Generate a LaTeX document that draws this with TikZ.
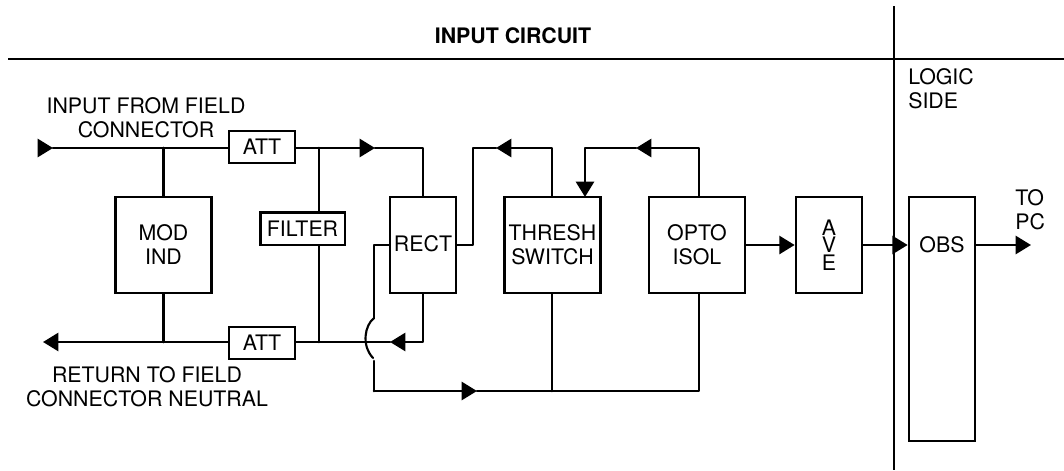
\documentclass[tikz,border=0pt]{standalone}
\usepackage{fontspec}
\setmainfont{TeX Gyre Heros}
\usetikzlibrary{arrows.meta}

\tikzset{
  block/.style={draw,line width=2pt,inner sep=0pt,align=center,font=\fontsize{16}{18}\selectfont},
  lbl/.style={inner sep=0pt,align=center,font=\fontsize{16}{18}\selectfont},
  conn/.style={line width=2pt,line join=round,line cap=round},
  flow/.style={conn,-{Triangle[length=11.5pt,width=13.5pt]}}
}

\begin{document}
\begin{tikzpicture}[x=0.75pt,y=-0.75pt]
  \useasboundingbox (0,0) rectangle (1064,471);

  % Lineas de separacion
  \coordinate (topL) at (8,59);
  \coordinate (topR) at (1064,59);
  \coordinate (sepT) at (894,6);
  \coordinate (sepB) at (894,470);
  \draw[conn,line cap=butt] (topL) -- (topR);
  \draw[conn,line cap=butt] (sepT) -- (sepB);

  % Bloques
  \node[block,minimum width=72pt,minimum height=72pt] (mod) at (163.5,245) {MOD\\IND};
  \node[block,minimum width=49.5pt,minimum height=24pt] (attT) at (262,147) {ATT};
  \node[block,minimum width=49.5pt,minimum height=24pt] (attB) at (262,343) {ATT};
  \node[block,minimum width=63.5pt,minimum height=24.5pt] (filter) at (302.5,228.5) {FILTER};
  \node[block,minimum width=49.5pt,minimum height=72pt] (rect) at (423,245) {\raisebox{1.5pt}{RECT}};
  \node[block,minimum width=72pt,minimum height=72pt] (thresh) at (552.5,245) {THRESH\\SWITCH};
  \node[block,minimum width=72pt,minimum height=72pt] (opto) at (697,245) {OPTO\\ISOL};
  \node[block,minimum width=49.5pt,minimum height=72pt,font=\fontsize{16}{13}\selectfont] (ave) at (829,245) {A\\V\\E};
  \node[block,minimum width=49.5pt,minimum height=183pt] (obs) at (942,319) {};

  % Textos
  \node[lbl,font=\bfseries\fontsize{16}{18}\selectfont] (title) at (513,36) {INPUT CIRCUIT};
  \node[lbl,align=left,anchor=north west] (logic) at (908,68) {LOGIC\\SIDE};
  \node[lbl] (obsT) at (942,245) {OBS};
  \node[lbl] (inT) at (146,118) {INPUT FROM FIELD\\CONNECTOR};
  \node[lbl] (retT) at (147,387) {RETURN TO FIELD\\CONNECTOR NEUTRAL};
  \node[lbl,align=left,anchor=west] (pcT) at (1015,210) {TO\\PC};

  % Puntos libres de las conexiones
  \coordinate (inS) at (38,148);
  \coordinate (inA) at (53,148);
  \coordinate (retA) at (43,342);
  \coordinate (splitT) at (319,148);
  \coordinate (splitB) at (319,342);
  \coordinate (topA) at (375,148);
  \coordinate (topC) at (423,148);
  \coordinate (botC) at (423,342);
  \coordinate (botA) at (390,342);
  \coordinate (jogT) at (473,148);
  \coordinate (thrT) at (552,148);
  \coordinate (thrA) at (496,148);
  \coordinate (optT) at (699,148);
  \coordinate (optA) at (636,148);
  \coordinate (fbT) at (585,148);
  \coordinate (fbB) at (585,197);
  \coordinate (rectL) at (374,245);
  \coordinate (brT) at (374,318);
  \coordinate (brB) at (373,358);
  \coordinate (lowT) at (374,361);
  \coordinate (lowL) at (374,391);
  \coordinate (lowA) at (477,391);
  \coordinate (lowM) at (552,391);
  \coordinate (lowR) at (699,391);
  \coordinate (pcA) at (1031,245);

  % Linea de entrada
  \draw[flow,line cap=butt] (inS) -- (inA);
  \draw[conn] (inA) -- (attT.west |- inA);
  \draw[flow] (attT.east |- topC) -- (topA);
  \draw[conn] (topA) -- (topC) -- (rect.north);
  \draw[conn] (mod.north) -- (mod.north |- inA);
  \draw[conn] (mod.south) -- (mod.south |- retA);
  \draw[conn] (splitT) -- (splitT |- filter.north);
  \draw[conn] (splitB) -- (splitB |- filter.south);

  % Linea de retorno
  \draw[flow] (attB.west |- retA) -- (retA);
  \draw[flow] (rect.south) -- (botC) -- (botA);
  \draw[conn] (botA) -- (attB.east |- botA);

  % Salida de RECT con el puente
  \draw[conn] (rect.west) -- (rectL) -- (brT);
  \draw[conn,line width=1.6pt] (brT) .. controls (365,325) and (361,345) .. (brB);
  \draw[conn] (lowT) -- (lowL);
  \draw[flow] (lowL) -- (lowA);
  \draw[conn] (lowA) -- (lowR) -- (opto.south -| lowR);
  \draw[conn] (lowM) -- (lowM |- thresh.south);

  % Lineas superiores
  \draw[conn] (rect.east) -- (jogT |- rect.east) -- (jogT) -- (thrA);
  \draw[flow] (thrT |- thresh.north) -- (thrT) -- (thrA);
  \draw[flow] (optT |- opto.north) -- (optT) -- (optA);
  \draw[flow] (optA) -- (fbT) -- (fbB);

  % Salidas
  \draw[flow] (opto.east) -- (ave.west);
  \draw[flow] (ave.east) -- (obs.west |- ave.east);
  \draw[flow] (obs.east |- pcA) -- (pcA);
\end{tikzpicture}
\end{document}
